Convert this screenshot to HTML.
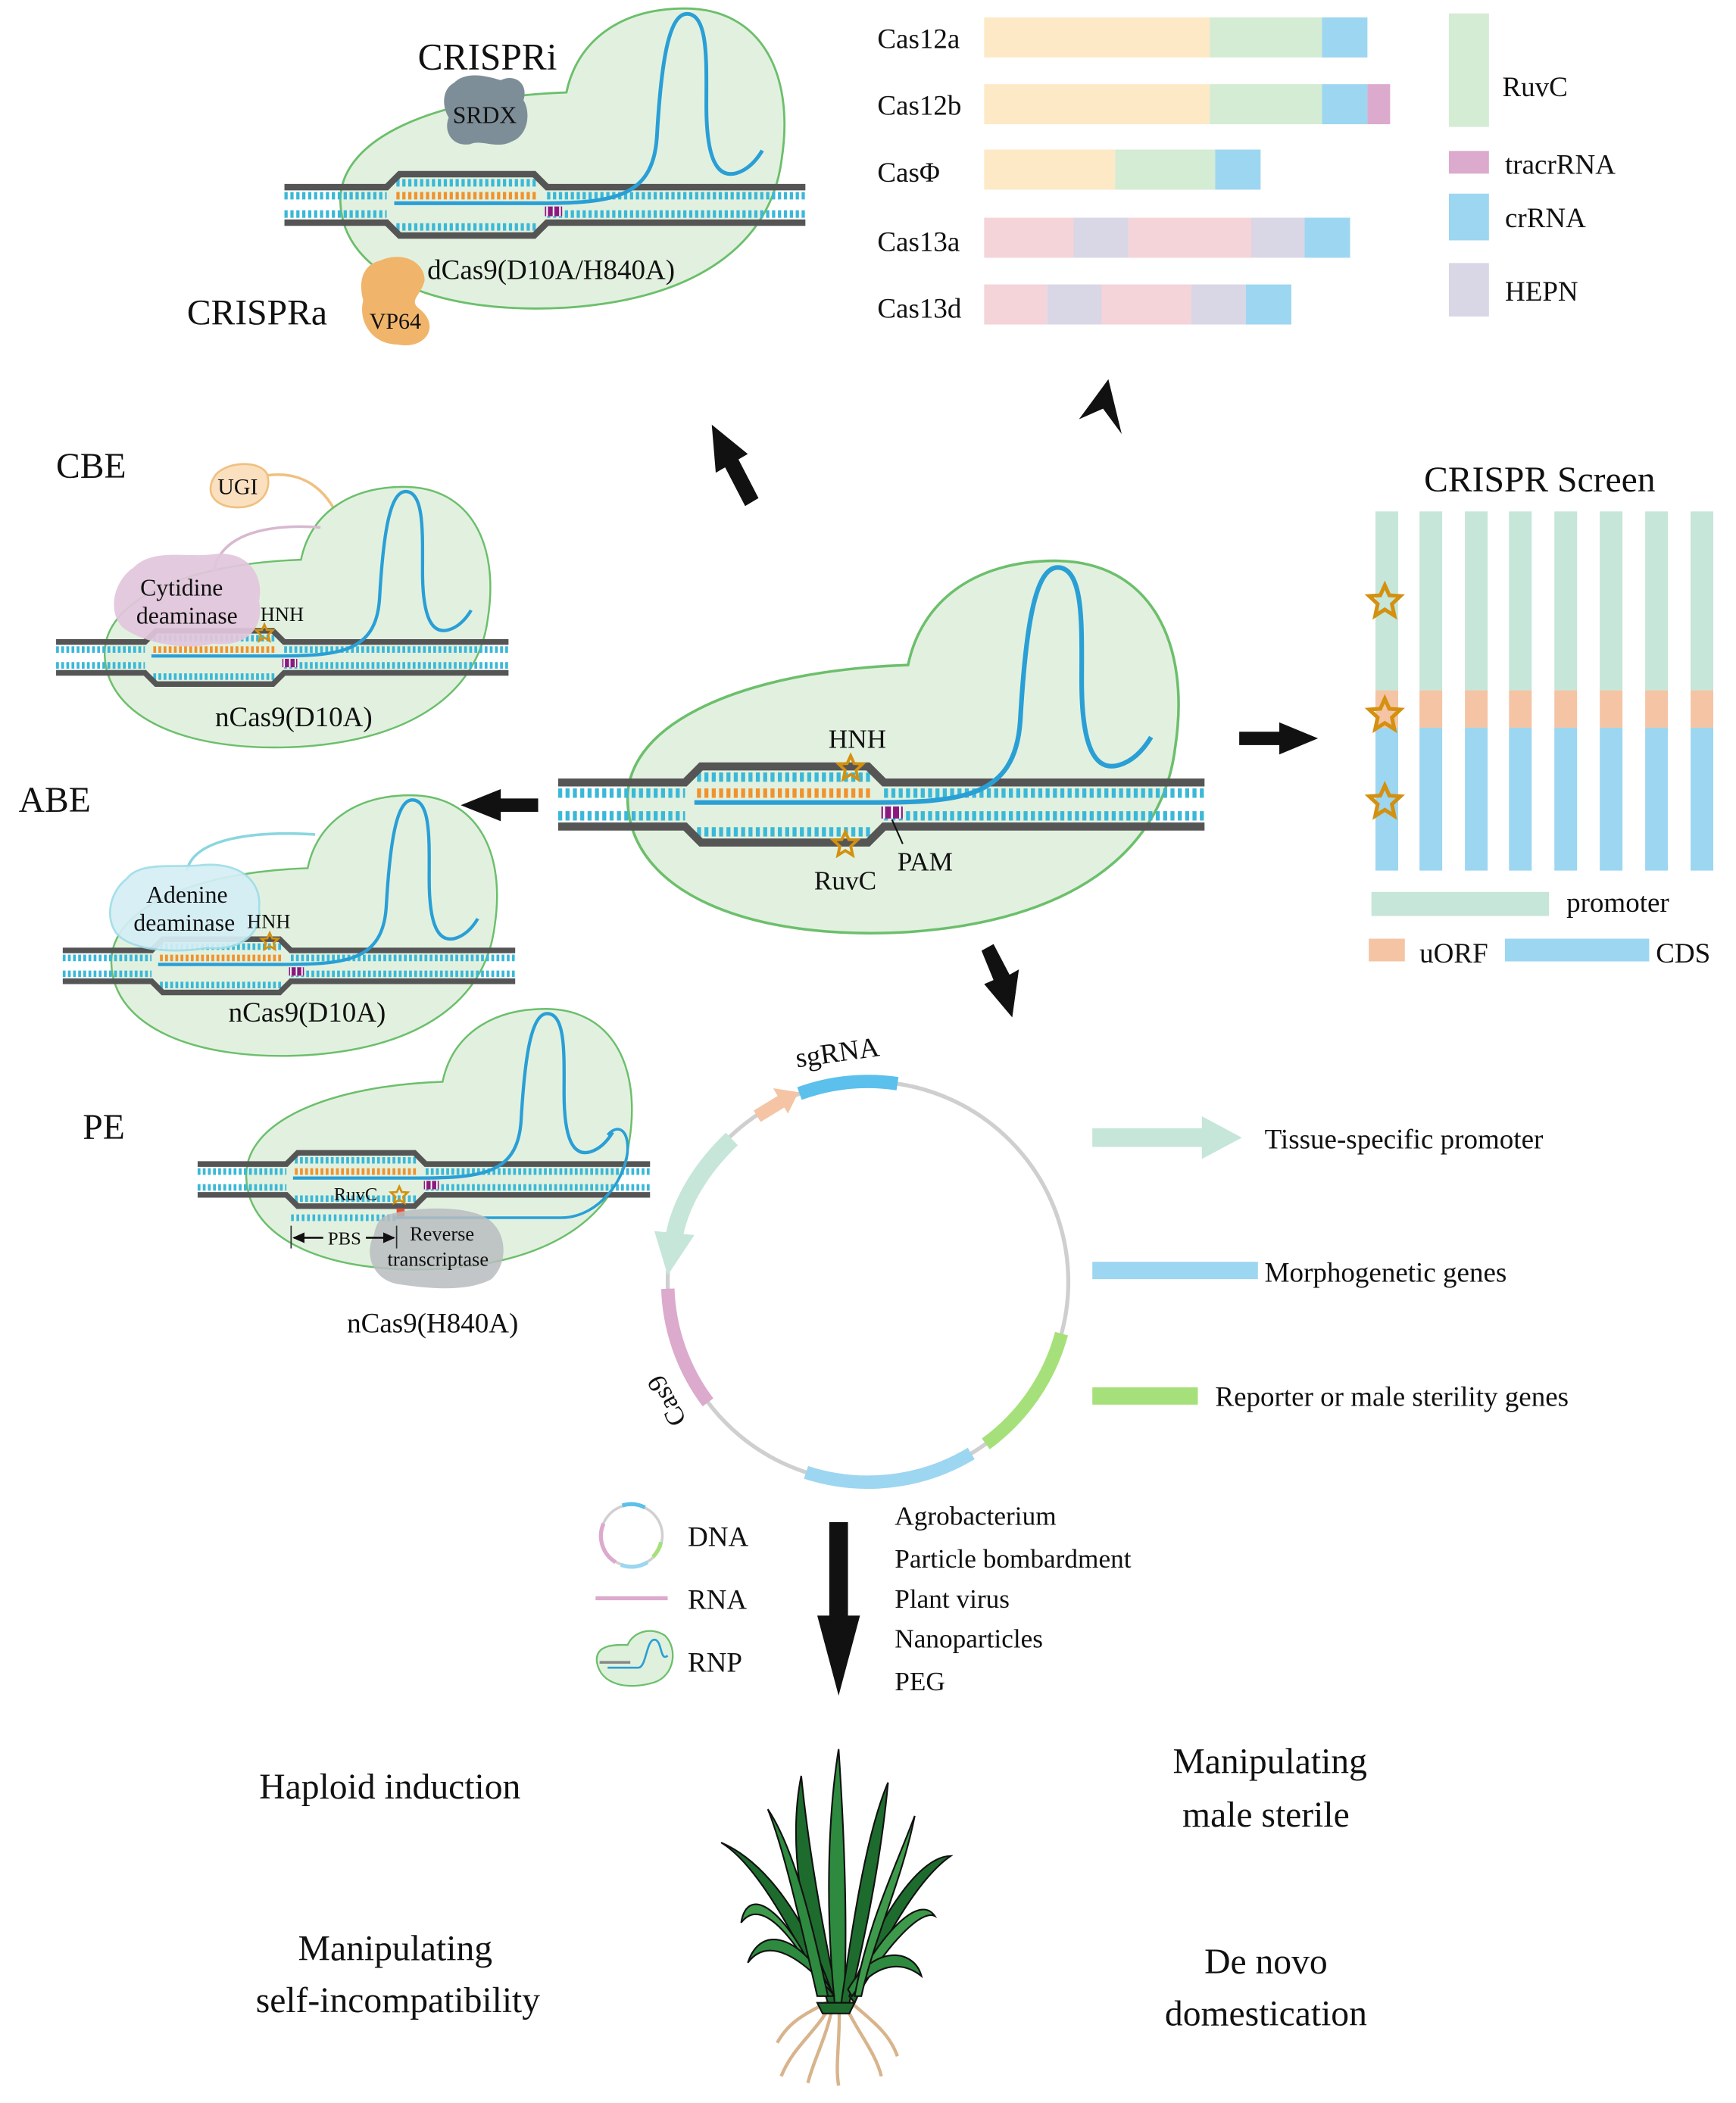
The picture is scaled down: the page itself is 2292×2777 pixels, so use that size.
<!DOCTYPE html>
<html><head><meta charset="utf-8"><style>
html,body{margin:0;padding:0;background:#fff}
svg{display:block}
text{font-family:"Liberation Serif",serif;fill:#111}
</style></head><body>
<svg width="2292" height="2777" viewBox="0 0 1300 1575" xmlns="http://www.w3.org/2000/svg">
<defs>
<g id="cx">
<path d="M 470,600 C 468,540 560,502 680,498 C 690,450 730,420 790,420 C 862,420 892,482 880,560 C 870,640 800,690 680,698 C 560,705 472,668 470,600 Z" fill="#e2f1df" stroke="#6cbf6c" stroke-width="2"/>
<line x1="418" y1="594" x2="513" y2="594" stroke="#3bb8d8" stroke-width="7" stroke-dasharray="3 2.5"/>
<line x1="418" y1="611" x2="513" y2="611" stroke="#3bb8d8" stroke-width="7" stroke-dasharray="3 2.5"/>
<line x1="662" y1="594" x2="902" y2="594" stroke="#3bb8d8" stroke-width="7" stroke-dasharray="3 2.5"/>
<line x1="662" y1="611" x2="902" y2="611" stroke="#3bb8d8" stroke-width="7" stroke-dasharray="3 2.5"/>
<line x1="522" y1="582" x2="652" y2="582" stroke="#3bb8d8" stroke-width="7" stroke-dasharray="3 2.5"/>
<line x1="522" y1="594" x2="652" y2="594" stroke="#f0922e" stroke-width="7" stroke-dasharray="3 2.5"/>
<line x1="522" y1="623" x2="652" y2="623" stroke="#3bb8d8" stroke-width="7" stroke-dasharray="3 2.5"/>
<rect x="660" y="604" width="16" height="9" fill="#8c1a7e"/>
<line x1="662" y1="604" x2="662" y2="613" stroke="#fff" stroke-width="1.5"/>
<line x1="668" y1="604" x2="668" y2="613" stroke="#fff" stroke-width="1.5"/>
<line x1="674" y1="604" x2="674" y2="613" stroke="#fff" stroke-width="1.5"/>
<path d="M418,586 L513,586 L525,574 L650,574 L662,586 L902,586" fill="none" stroke="#555" stroke-width="6"/>
<path d="M418,619 L513,619 L525,631 L650,631 L662,619 L902,619" fill="none" stroke="#555" stroke-width="6"/>
<path d="M520,601 L650,601 C 720,601 760,598 764,540 C 768,470 775,425 792,425 C 812,425 810,470 810,510 C 810,560 820,578 838,573 C 848,570 856,562 862,552" fill="none" stroke="#2a9fd6" stroke-width="3.5"/>
</g>
<path id="star" d="M0,-9 L2.6,-3.2 9,-2.8 4.1,1.8 5.5,8.5 0,5 -5.5,8.5 -4.1,1.8 -9,-2.8 -2.6,-3.2 Z" fill="none" stroke="#d4900f" stroke-width="2.2"/>
</defs>

<g font-size="21">
<text x="657" y="36">Cas12a</text>
<text x="657" y="86">Cas12b</text>
<text x="657" y="136">CasΦ</text>
<text x="657" y="188">Cas13a</text>
<text x="657" y="238">Cas13d</text>
</g>
<rect x="737" y="13" width="169" height="30" fill="#fde9c6"/><rect x="906" y="13" width="84" height="30" fill="#d4ebd4"/><rect x="990" y="13" width="34" height="30" fill="#9dd6f0"/>
<rect x="737" y="63" width="169" height="30" fill="#fde9c6"/><rect x="906" y="63" width="84" height="30" fill="#d4ebd4"/><rect x="990" y="63" width="34" height="30" fill="#9dd6f0"/><rect x="1024" y="63" width="17" height="30" fill="#dcaacd"/>
<rect x="737" y="112" width="98" height="30" fill="#fde9c6"/><rect x="835" y="112" width="75" height="30" fill="#d4ebd4"/><rect x="910" y="112" width="34" height="30" fill="#9dd6f0"/>
<rect x="737" y="163" width="67" height="30" fill="#f4d3d9"/><rect x="804" y="163" width="41" height="30" fill="#d9d6e6"/><rect x="845" y="163" width="92" height="30" fill="#f4d3d9"/><rect x="937" y="163" width="40" height="30" fill="#d9d6e6"/><rect x="977" y="163" width="34" height="30" fill="#9dd6f0"/>
<rect x="737" y="213" width="47" height="30" fill="#f4d3d9"/><rect x="784" y="213" width="41" height="30" fill="#d9d6e6"/><rect x="825" y="213" width="67" height="30" fill="#f4d3d9"/><rect x="892" y="213" width="41" height="30" fill="#d9d6e6"/><rect x="933" y="213" width="34" height="30" fill="#9dd6f0"/>
<rect x="1085" y="10" width="30" height="85" fill="#d4ebd4"/>
<rect x="1085" y="113" width="30" height="17" fill="#dcaacd"/>
<rect x="1085" y="145" width="30" height="35" fill="#9dd6f0"/>
<rect x="1085" y="197" width="30" height="40" fill="#d9d6e6"/>
<g font-size="21">
<text x="1125" y="72">RuvC</text>
<text x="1127" y="130">tracrRNA</text>
<text x="1127" y="170">crRNA</text>
<text x="1127" y="225">HEPN</text>
</g>
<path d="M830,284 L808,314 L826,306 L840,325 Z" fill="#111"/>

<use href="#cx" transform="translate(213,153) scale(0.806) translate(-418,-602)"/>
<path d="M340,62 C 350,52 368,58 375,60 C 385,55 396,62 392,75 C 398,85 395,102 383,106 C 372,112 360,104 352,108 C 338,110 332,98 336,88 C 330,78 332,66 340,62 Z" fill="#7e8e98"/>
<text x="363" y="92" font-size="18" text-anchor="middle">SRDX</text>
<text x="365" y="52" font-size="28" text-anchor="middle">CRISPRi</text>
<path d="M285,195 C 300,188 318,195 318,210 C 315,222 305,225 315,232 C 330,245 318,262 298,258 C 278,258 268,240 272,225 C 268,210 272,198 285,195 Z" fill="#f0b56a"/>
<text x="296" y="246" font-size="17" text-anchor="middle">VP64</text>
<text x="320" y="209" font-size="21">dCas9(D10A/H840A)</text>
<text x="140" y="243" font-size="27">CRISPRa</text>

<text x="42" y="358" font-size="27">CBE</text>
<path d="M200,356 C 230,352 248,370 256,395" fill="none" stroke="#f0c080" stroke-width="2"/>
<path d="M162,355 C 172,345 195,345 200,355 C 204,368 195,380 178,380 C 160,380 152,368 162,355 Z" fill="#fbe0c0" stroke="#f0c080" stroke-width="1.5"/>
<text x="178" y="370" font-size="17" text-anchor="middle">UGI</text>
<use href="#cx" transform="translate(42,492) scale(0.70) translate(-418,-602)"/>
<path d="M160,428 C 165,400 200,392 240,395" fill="none" stroke="#d8b8d0" stroke-width="2"/>
<path d="M100,425 C 115,410 140,418 160,415 C 185,412 198,430 194,450 C 198,470 185,485 160,482 C 135,488 105,480 92,470 C 80,458 85,435 100,425 Z" fill="#e2c6dc" opacity="0.92"/>
<text x="136" y="446" font-size="18" text-anchor="middle">Cytidine</text>
<text x="140" y="467" font-size="18" text-anchor="middle">deaminase</text>
<text x="195" y="465" font-size="15">HNH</text>
<use href="#star" transform="translate(198,474) scale(0.7)"/>
<text x="220" y="544" font-size="21" text-anchor="middle">nCas9(D10A)</text>

<text x="14" y="608" font-size="27">ABE</text>
<use href="#cx" transform="translate(47,723) scale(0.70) translate(-418,-602)"/>
<path d="M140,652 C 145,628 190,622 236,625" fill="none" stroke="#8ad6e0" stroke-width="2"/>
<path d="M95,658 C 105,645 130,650 150,648 C 180,645 196,660 194,680 C 196,700 180,712 155,710 C 130,714 100,712 88,700 C 78,688 82,668 95,658 Z" fill="#d4eef5" stroke="#9fdde8" stroke-width="1.5" opacity="0.92"/>
<text x="140" y="676" font-size="18" text-anchor="middle">Adenine</text>
<text x="138" y="697" font-size="18" text-anchor="middle">deaminase</text>
<text x="185" y="695" font-size="15">HNH</text>
<use href="#star" transform="translate(202,705) scale(0.7)"/>
<text x="230" y="765" font-size="21" text-anchor="middle">nCas9(D10A)</text>

<text x="62" y="853" font-size="27">PE</text>
<use href="#cx" transform="translate(148,883) scale(0.70) translate(-418,-602)"/>
<line x1="218" y1="912" x2="296" y2="912" stroke="#3bb8d8" stroke-width="5" stroke-dasharray="2 2"/>
<path d="M296,912 L420,912 C 450,912 470,880 470,860 C 470,845 462,842 455,850" fill="none" stroke="#2a9fd6" stroke-width="2"/>
<rect x="297" y="905" width="6" height="6" fill="#e05030"/>
<path d="M290,910 C 305,905 340,902 360,910 C 380,918 382,945 368,958 C 350,968 320,965 300,962 C 280,960 272,940 280,925 C 282,915 285,912 290,910 Z" fill="#b8bcc0" opacity="0.85"/>
<text x="250" y="899" font-size="14">RuvC</text>
<use href="#star" transform="translate(299,895) scale(0.7)"/>
<text x="331" y="929" font-size="15" text-anchor="middle">Reverse</text>
<text x="328" y="948" font-size="15" text-anchor="middle">transcriptase</text>
<line x1="218" y1="918" x2="218" y2="935" stroke="#333" stroke-width="1"/>
<line x1="297" y1="918" x2="297" y2="935" stroke="#333" stroke-width="1"/>
<path d="M220,927 L242,927 M274,927 L295,927" stroke="#111" stroke-width="1.5"/>
<path d="M219,927 L228,923 L228,931 Z M296,927 L287,923 L287,931 Z" fill="#111"/>
<text x="258" y="932" font-size="14" text-anchor="middle">PBS</text>
<text x="324" y="998" font-size="21" text-anchor="middle">nCas9(H840A)</text>

<use href="#cx"/>
<use href="#star" transform="translate(637,575)"/>
<use href="#star" transform="translate(633,632)"/>
<text x="642" y="560" font-size="20" text-anchor="middle">HNH</text>
<text x="633" y="666" font-size="20" text-anchor="middle">RuvC</text>
<text x="672" y="652" font-size="20">PAM</text>
<line x1="668" y1="614" x2="676" y2="632" stroke="#111" stroke-width="1.2"/>

<g fill="#111">
<path d="M568,373 L558,379 L543,350 L536,354 L533,318 L560,340 L553,344 Z"/>
<path d="M403,598 L375,598 L375,591 L345,603 L375,615 L375,608 L403,608 Z"/>
<path d="M928,548 L958,548 L958,541 L987,553 L958,565 L958,558 L928,558 Z"/>
<path d="M735,712 L744,707 L756,730 L763,726 L758,762 L737,737 L744,734 Z"/>
<path d="M621,1140 L635,1140 L635,1210 L644,1210 L628,1270 L612,1210 L621,1210 Z"/>
</g>

<text x="1153" y="368" font-size="27" text-anchor="middle">CRISPR Screen</text>
<g>
<rect x="1030" y="383" width="17" height="134" fill="#c5e6d9"/><rect x="1030" y="517" width="17" height="28" fill="#f4c4a4"/><rect x="1030" y="545" width="17" height="107" fill="#9dd6f0"/>
<rect x="1063" y="383" width="17" height="134" fill="#c5e6d9"/><rect x="1063" y="517" width="17" height="28" fill="#f4c4a4"/><rect x="1063" y="545" width="17" height="107" fill="#9dd6f0"/>
<rect x="1097" y="383" width="17" height="134" fill="#c5e6d9"/><rect x="1097" y="517" width="17" height="28" fill="#f4c4a4"/><rect x="1097" y="545" width="17" height="107" fill="#9dd6f0"/>
<rect x="1130" y="383" width="17" height="134" fill="#c5e6d9"/><rect x="1130" y="517" width="17" height="28" fill="#f4c4a4"/><rect x="1130" y="545" width="17" height="107" fill="#9dd6f0"/>
<rect x="1164" y="383" width="17" height="134" fill="#c5e6d9"/><rect x="1164" y="517" width="17" height="28" fill="#f4c4a4"/><rect x="1164" y="545" width="17" height="107" fill="#9dd6f0"/>
<rect x="1198" y="383" width="17" height="134" fill="#c5e6d9"/><rect x="1198" y="517" width="17" height="28" fill="#f4c4a4"/><rect x="1198" y="545" width="17" height="107" fill="#9dd6f0"/>
<rect x="1232" y="383" width="17" height="134" fill="#c5e6d9"/><rect x="1232" y="517" width="17" height="28" fill="#f4c4a4"/><rect x="1232" y="545" width="17" height="107" fill="#9dd6f0"/>
<rect x="1266" y="383" width="17" height="134" fill="#c5e6d9"/><rect x="1266" y="517" width="17" height="28" fill="#f4c4a4"/><rect x="1266" y="545" width="17" height="107" fill="#9dd6f0"/>
</g>
<use href="#star" transform="translate(1037,450) scale(1.3)"/>
<use href="#star" transform="translate(1037,535) scale(1.3)"/>
<use href="#star" transform="translate(1037,600) scale(1.3)"/>
<rect x="1027" y="668" width="133" height="18" fill="#c5e6d9"/>
<text x="1173" y="683" font-size="21">promoter</text>
<rect x="1025" y="703" width="27" height="17" fill="#f4c4a4"/>
<text x="1063" y="721" font-size="21">uORF</text>
<rect x="1127" y="703" width="108" height="17" fill="#9dd6f0"/>
<text x="1240" y="721" font-size="21">CDS</text>

<circle cx="650" cy="960" r="150" fill="none" stroke="#cfcfcf" stroke-width="3"/>
<path d="M598.7,819.0 A150,150 0 0 1 672.1,811.6" fill="none" stroke="#5bc0eb" stroke-width="10"/>
<path d="M567,836 L585,825" stroke="#f4c4a4" stroke-width="10"/>
<path d="M579,815 L598,818 L590,834 Z" fill="#f4c4a4"/>
<path d="M548,853 C 525,875 510,900 505,925" fill="none" stroke="#c5e6d9" stroke-width="13"/>
<path d="M490,922 L520,925 L500,955 Z" fill="#c5e6d9"/>
<path d="M500.1,965.2 A150,150 0 0 0 530.2,1050.3" fill="none" stroke="#dcaacd" stroke-width="10"/>
<path d="M603.6,1102.7 A150,150 0 0 0 727.3,1088.6" fill="none" stroke="#9dd6f0" stroke-width="10"/>
<path d="M738.2,1081.4 A150,150 0 0 0 794.9,998.8" fill="none" stroke="#a6e07a" stroke-width="10"/>
<text x="628" y="795" font-size="21" text-anchor="middle" transform="rotate(-8 628 795)">sgRNA</text>
<text x="505" y="1046" font-size="20" text-anchor="middle" transform="rotate(-118 505 1046)">Cas9</text>

<path d="M818,845 L900,845 L900,836 L930,852 L900,868 L900,859 L818,859 Z" fill="#c5e6d9"/>
<text x="947" y="860" font-size="21">Tissue-specific promoter</text>
<rect x="818" y="945" width="124" height="13" fill="#9dd6f0"/>
<text x="947" y="960" font-size="21">Morphogenetic genes</text>
<rect x="818" y="1039" width="79" height="13" fill="#a6e07a"/>
<text x="910" y="1053" font-size="21">Reporter or male sterility genes</text>

<circle cx="473" cy="1150" r="23" fill="none" stroke="#d0d0d0" stroke-width="2"/>
<path d="M466,1127.5 A23,23 0 0 1 483,1129" fill="none" stroke="#5bc0eb" stroke-width="3"/>
<path d="M452,1141 A23,23 0 0 0 461,1170" fill="none" stroke="#dcaacd" stroke-width="3"/>
<path d="M465,1172 A23,23 0 0 0 485,1170" fill="none" stroke="#9dd6f0" stroke-width="3"/>
<path d="M489,1166 A23,23 0 0 0 495,1155" fill="none" stroke="#a6e07a" stroke-width="3"/>
<text x="515" y="1158" font-size="21">DNA</text>
<line x1="446" y1="1197" x2="500" y2="1197" stroke="#dcaacd" stroke-width="3"/>
<text x="515" y="1205" font-size="21">RNA</text>
<path d="M447,1245 C 445,1230 465,1232 470,1232 C 474,1222 488,1218 498,1225 C 508,1235 505,1255 490,1260 C 470,1266 450,1262 447,1245 Z" fill="#dff0dc" stroke="#6cbf6c" stroke-width="1.3"/>
<line x1="449" y1="1245" x2="472" y2="1245" stroke="#888" stroke-width="2"/>
<path d="M455,1249 L478,1249 C 484,1249 484,1228 490,1228 C 496,1228 494,1245 500,1240" fill="none" stroke="#2a9fd6" stroke-width="1.5"/>
<text x="515" y="1252" font-size="21">RNP</text>
<g font-size="20">
<text x="670" y="1142">Agrobacterium</text>
<text x="670" y="1174">Particle bombardment</text>
<text x="670" y="1204">Plant virus</text>
<text x="670" y="1234">Nanoparticles</text>
<text x="670" y="1266">PEG</text>
</g>

<g font-size="27" text-anchor="middle">
<text x="292" y="1347">Haploid induction</text>
<text x="296" y="1468">Manipulating</text>
<text x="298" y="1507">self-incompatibility</text>
<text x="951" y="1328">Manipulating</text>
<text x="948" y="1368">male sterile</text>
<text x="948" y="1478">De novo</text>
<text x="948" y="1517">domestication</text>
</g>

<g stroke="#d8b48c" stroke-width="2.5" fill="none">
<path d="M625,1495 C 615,1520 595,1530 585,1555"/>
<path d="M625,1495 C 620,1525 610,1540 605,1560"/>
<path d="M628,1495 C 630,1525 625,1545 628,1562"/>
<path d="M630,1495 C 640,1520 655,1535 660,1555"/>
<path d="M632,1495 C 648,1510 665,1520 672,1540"/>
<path d="M622,1498 C 605,1508 592,1512 582,1530"/>
</g>
<g stroke="#111" stroke-width="1.2">
<path d="M620,1500 C 600,1440 590,1380 600,1330 C 605,1380 615,1440 628,1500 Z" fill="#1e6b2e"/>
<path d="M625,1500 C 618,1430 620,1360 628,1310 C 632,1370 635,1440 632,1500 Z" fill="#2d8a3e"/>
<path d="M630,1500 C 640,1430 650,1370 665,1335 C 660,1390 648,1450 636,1500 Z" fill="#1e6b2e"/>
<path d="M618,1495 C 590,1440 565,1395 540,1380 C 575,1395 605,1440 624,1495 Z" fill="#1e6b2e"/>
<path d="M615,1490 C 590,1430 560,1410 555,1440 C 570,1420 595,1450 618,1495 Z" fill="#3d9a4a"/>
<path d="M636,1495 C 660,1430 690,1390 712,1390 C 690,1405 665,1445 640,1500 Z" fill="#1e6b2e"/>
<path d="M638,1490 C 665,1440 690,1420 700,1435 C 690,1430 665,1455 642,1495 Z" fill="#3d9a4a"/>
<path d="M622,1490 C 600,1450 570,1440 560,1470 C 575,1450 600,1465 625,1495 Z" fill="#2d8a3e"/>
<path d="M635,1490 C 655,1455 685,1460 690,1480 C 675,1468 655,1470 638,1495 Z" fill="#2d8a3e"/>
<path d="M612,1495 C 595,1420 585,1380 575,1355 C 595,1385 608,1440 620,1495 Z" fill="#2d8a3e"/>
<path d="M640,1495 C 650,1440 670,1400 685,1360 C 675,1410 655,1450 645,1495 Z" fill="#3d9a4a"/>
<path d="M612,1500 L640,1500 L636,1508 L616,1508 Z" fill="#1e6b2e"/>
</g>
</svg>
</body></html>
